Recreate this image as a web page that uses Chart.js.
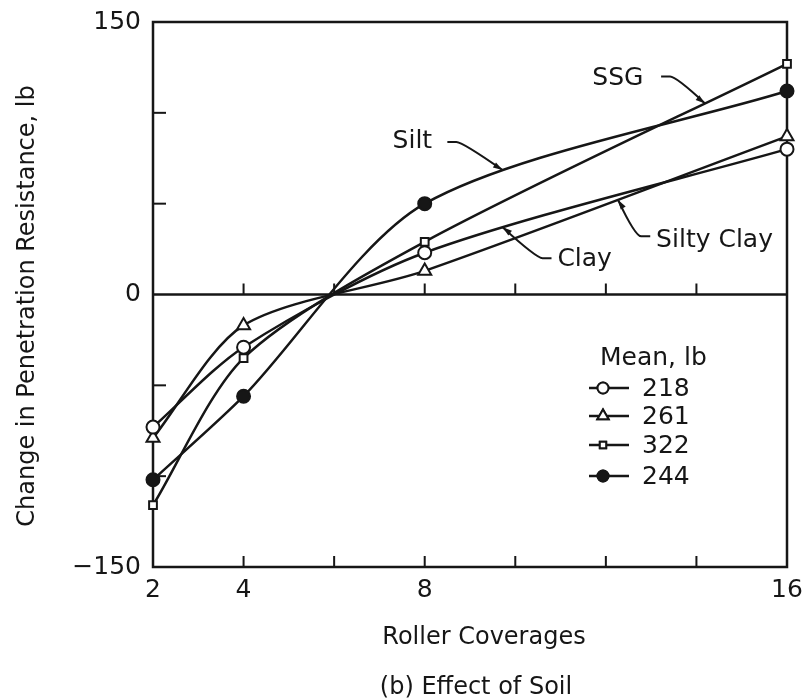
<!DOCTYPE html>
<html>
<head>
<meta charset="utf-8">
<script src="https://cdn.jsdelivr.net/npm/chart.js@4/dist/chart.umd.min.js"></script>
<style>
  html, body { margin: 0; padding: 0; background: #fff; }
  canvas { display: block; }
</style>
</head>
<body>
<canvas id="soilChart" width="802" height="700"></canvas>
<script>
// roller coverages on the x axis
const coverages = [2, 4, 8, 16];

// change in penetration resistance, lb
const clay = [-73, -29, 23, 80];        // mean 218
const siltyClay = [-79, -17, 13, 87];   // mean 261
const ssg = [-116, -35, 29, 127];       // mean 322
const silt = [-102, -56, 50, 112];      // mean 244

const meanLabels = ['218', '261', '322', '244'];
const soilNames = ['Clay', 'Silty Clay', 'SSG', 'Silt'];
const xTickLabels = [2, 4, 8, 16];
const yTickLabels = [-150, 0, 150];

const ink = '#161616';
const font = '"DejaVu Sans", sans-serif';

function toPoints(values) {
  return coverages.map((x, i) => ({ x: x, y: values[i] }));
}

const series = [
  { values: clay, style: 'circle', radius: 6.5, fill: '#fff' },
  { values: siltyClay, style: 'triangle', radius: 7.5, fill: '#fff' },
  { values: ssg, style: 'rect', radius: 5.5, fill: '#fff' },
  { values: silt, style: 'circle', radius: 6.5, fill: ink },
];

// curve names: text position, leader start, and the x where the arrow meets the curve
const curveNotes = [
  { series: 2, text: 'SSG', x: 11.70, y: 119, sx: 13.22, sy: 120, tipX: 14.19 },
  { series: 3, text: 'Silt', x: 7.29, y: 84, sx: 8.50, sy: 84, tipX: 9.72 },
  { series: 0, text: 'Clay', x: 10.93, y: 19, sx: 10.80, sy: 20, tipX: 9.72 },
  { series: 1, text: 'Silty Clay', x: 13.11, y: 30, sx: 12.98, sy: 32, tipX: 12.27 },
];

// point on the drawn bezier curve of a dataset at a given pixel x
function curveYAt(chart, dsIndex, px) {
  const pts = chart.getDatasetMeta(dsIndex).data;
  for (let j = 0; j < pts.length - 1; j++) {
    const a = pts[j], b = pts[j + 1];
    if (px < a.x || px > b.x) continue;
    const p1x = a.cp2x ?? a.x, p1y = a.cp2y ?? a.y;
    const p2x = b.cp1x ?? b.x, p2y = b.cp1y ?? b.y;
    const bez = (t, p0, p1, p2, p3) => {
      const u = 1 - t;
      return u * u * u * p0 + 3 * u * u * t * p1 + 3 * u * t * t * p2 + t * t * t * p3;
    };
    let lo = 0, hi = 1;
    for (let k = 0; k < 40; k++) {
      const mid = (lo + hi) / 2;
      if (bez(mid, a.x, p1x, p2x, b.x) < px) lo = mid; else hi = mid;
    }
    const t = (lo + hi) / 2;
    return bez(t, a.y, p1y, p2y, b.y);
  }
  return null;
}

const framePlugin = {
  id: 'frame',
  beforeDatasetsDraw(chart) {
    const { ctx, chartArea: area, scales: { x, y } } = chart;
    ctx.save();
    ctx.strokeStyle = ink;
    ctx.lineWidth = 2.5;
    ctx.strokeRect(area.left, area.top, area.right - area.left, area.bottom - area.top);

    const zero = y.getPixelForValue(0);
    ctx.beginPath();
    ctx.moveTo(area.left, zero);
    ctx.lineTo(area.right, zero);
    ctx.stroke();

    // inward tick marks
    ctx.lineWidth = 2;
    for (let v = 4; v < 16; v += 2) {
      const px = x.getPixelForValue(v);
      ctx.beginPath();
      ctx.moveTo(px, area.bottom);
      ctx.lineTo(px, area.bottom - 11);
      ctx.moveTo(px, zero);
      ctx.lineTo(px, zero - 11);
      ctx.stroke();
    }
    [-100, -50, 50, 100].forEach(v => {
      const py = y.getPixelForValue(v);
      ctx.beginPath();
      ctx.moveTo(area.left, py);
      ctx.lineTo(area.left + 13, py);
      ctx.stroke();
    });
    ctx.restore();
  },
  afterDraw(chart) {
    const { ctx, chartArea: area, scales: { x, y } } = chart;
    ctx.save();
    ctx.fillStyle = ink;
    ctx.strokeStyle = ink;

    // tick labels
    ctx.font = '25px ' + font;
    ctx.textBaseline = 'middle';
    ctx.textAlign = 'center';
    xTickLabels.forEach(v => ctx.fillText(String(v), x.getPixelForValue(v), area.bottom + 23));
    ctx.textAlign = 'right';
    yTickLabels.forEach(v => {
      const txt = v < 0 ? '\u2212' + Math.abs(v) : String(v);
      ctx.fillText(txt, area.left - 12, y.getPixelForValue(v));
    });

    // axis titles
    ctx.font = '24px ' + font;
    ctx.textAlign = 'center';
    ctx.fillText('Roller Coverages', 484, 638);
    ctx.fillText('(b) Effect of Soil', 476, 688);
    ctx.save();
    ctx.translate(28, 306);
    ctx.rotate(-Math.PI / 2);
    ctx.fillText('Change in Penetration Resistance, lb', 0, 0);
    ctx.restore();

    // curve names with leader arrows
    ctx.font = '25px ' + font;
    ctx.textAlign = 'left';
    ctx.lineWidth = 2;
    curveNotes.forEach(n => {
      ctx.fillText(n.text, x.getPixelForValue(n.x), y.getPixelForValue(n.y));
      const sx = x.getPixelForValue(n.sx), sy = y.getPixelForValue(n.sy);
      const tx = x.getPixelForValue(n.tipX);
      const ty = curveYAt(chart, n.series, tx);
      const dir = Math.sign(tx - sx);
      const kx = sx + dir * 9, ky = sy;
      ctx.beginPath();
      ctx.moveTo(sx, sy);
      ctx.lineTo(kx, ky);
      ctx.quadraticCurveTo(kx + dir * 6, ky, tx, ty);
      ctx.stroke();
      const ang = Math.atan2(ty - ky, tx - kx);
      ctx.beginPath();
      ctx.moveTo(tx, ty);
      ctx.lineTo(tx - 10 * Math.cos(ang - 0.3), ty - 10 * Math.sin(ang - 0.3));
      ctx.lineTo(tx - 10 * Math.cos(ang + 0.3), ty - 10 * Math.sin(ang + 0.3));
      ctx.closePath();
      ctx.fill();
    });

    // legend
    ctx.textAlign = 'left';
    ctx.fillText('Mean, lb', 600, 358);
    const rows = [388, 416, 445, 476];
    meanLabels.forEach((lab, i) => {
      const s = series[i];
      const ry = rows[i];
      ctx.lineWidth = 2.5;
      ctx.beginPath();
      ctx.moveTo(589, ry);
      ctx.lineTo(629, ry);
      ctx.stroke();
      ctx.lineWidth = 2;
      ctx.fillStyle = s.fill;
      Chart.helpers.drawPoint(ctx, { pointStyle: s.style, radius: s.radius - 1, borderWidth: 2, rotation: 0 }, 603, ry);
      ctx.fill();
      ctx.stroke();
      ctx.fillStyle = ink;
      ctx.fillText(lab, 642, ry + 1);
    });
    ctx.restore();
  }
};

new Chart(document.getElementById('soilChart'), {
  type: 'line',
  data: {
    datasets: series.map((s, i) => ({
      label: meanLabels[i] + ' ' + soilNames[i],
      data: toPoints(s.values),
      borderColor: ink,
      borderWidth: 2.5,
      tension: 0.28,
      pointStyle: s.style,
      pointRadius: s.radius,
      pointBorderWidth: 2,
      pointBorderColor: ink,
      pointBackgroundColor: s.fill,
      clip: false,
    })),
  },
  options: {
    responsive: false,
    animation: false,
    layout: { padding: { left: 153, right: 15, top: 22, bottom: 133 } },
    plugins: { legend: { display: false }, tooltip: { enabled: false } },
    scales: {
      x: { type: 'linear', min: 2, max: 16, display: false },
      y: { type: 'linear', min: -150, max: 150, display: false },
    },
  },
  plugins: [framePlugin],
});
</script>
</body>
</html>
